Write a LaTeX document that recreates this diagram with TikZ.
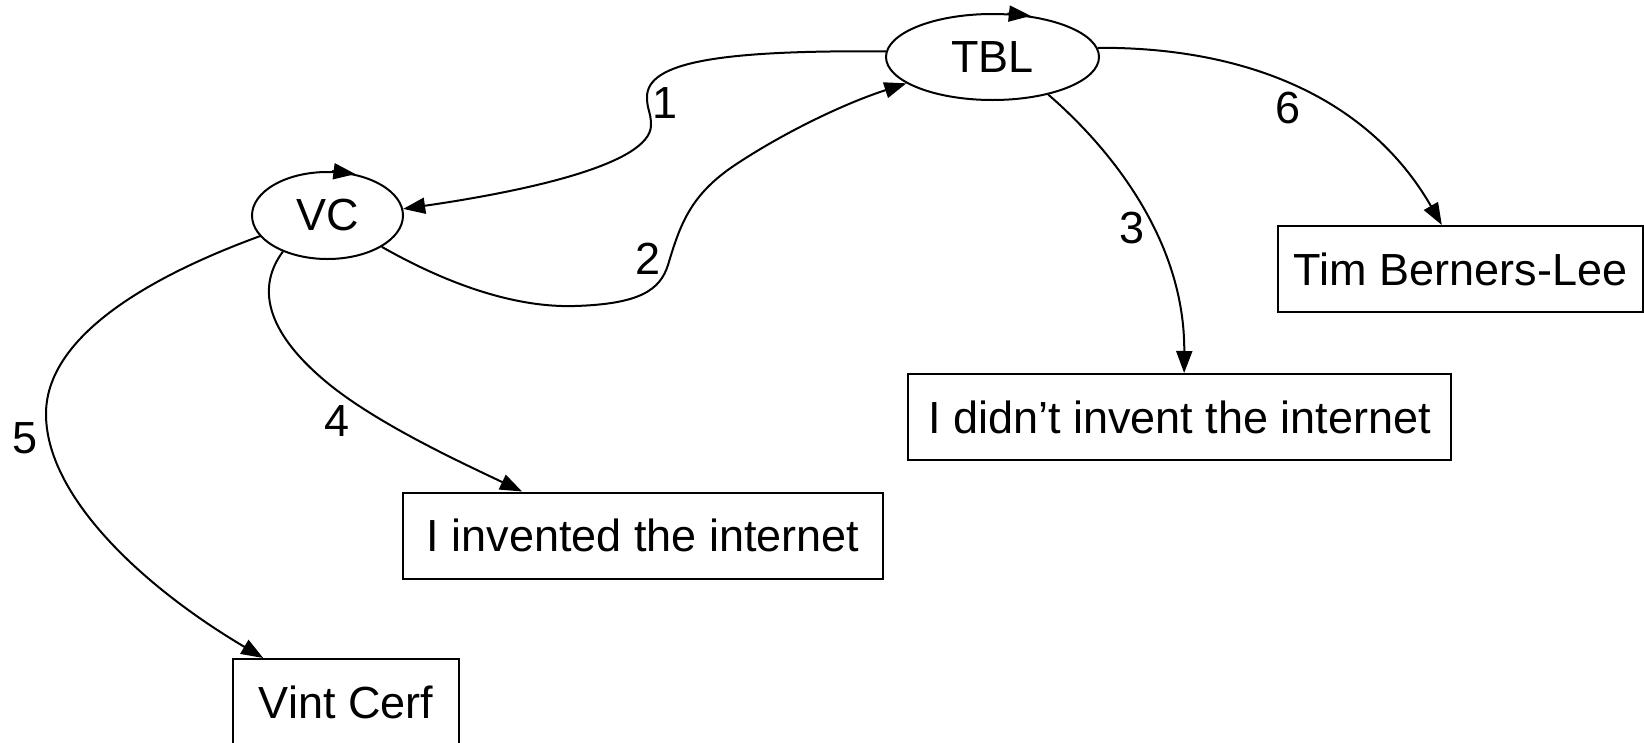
\documentclass[tikz,border=0pt]{standalone}
\usepackage{fontspec}
\setmainfont{Liberation Sans}
\usetikzlibrary{arrows.meta,shapes.geometric}
\begin{document}
\begin{tikzpicture}[x=1pt,y=-1pt,
  every node/.style={font=\fontsize{45}{54}\selectfont},
  ell/.style={draw, ellipse, line width=2pt, inner sep=0pt},
  box/.style={draw, rectangle, line width=2pt, inner sep=0pt, minimum height=86pt},
  edge/.style={line width=2pt, -{Triangle[length=22pt,width=16pt]}},
  lbl/.style={inner sep=0pt}]
\useasboundingbox (0,0) rectangle (1644,742);

% people
\node[ell, minimum width=213pt, minimum height=86pt] (TBL) at (992.5,57) {TBL};
\node[ell, minimum width=151pt, minimum height=87pt] (VC) at (327.5,215.5) {VC};

% statements and names
\node[box, minimum width=480pt] (invented) at (643,535.5) {I invented the internet};
\node[box, minimum width=543pt] (didnt) at (1179.5,417) {I didn’t invent the internet};
\node[box, minimum width=365pt] (tim) at (1460.5,269) {Tim Berners-Lee};
\node[box, minimum width=226pt] (vint) at (346,702) {Vint Cerf};

% small heads sitting on the ellipses
\draw[edge] (TBL.71) -- (TBL.47);
\draw[edge] (VC.84) -- (VC.56);

% 1: TBL -> VC
\draw[edge] (TBL.177) .. controls (720,50) and (647,62) .. (647,97)
  .. controls (647,110) and (651,112) .. (651,125)
  .. controls (651,165) and (520,192) .. (VC.5);
% 2: VC -> TBL
\draw[edge] (VC.-30) .. controls (440,280) and (510,308) .. (575,306)
  .. controls (640,304) and (660,290) .. (668,265)
  .. controls (680,225) and (690,195) .. (735,165)
  .. controls (780,135) and (840,105) .. (TBL.197);
% 3: TBL -> didn't
\draw[edge] (TBL.-34) .. controls (1110,148) and (1185,240) .. (didnt.84);
% 4: VC -> invented
\draw[edge] (VC.219) .. controls (258,285) and (262,330) .. (330,385)
  .. controls (380,425) and (460,462) .. (invented.160);
% 5: VC -> Vint Cerf
\draw[edge] (VC.197) .. controls (140,280) and (46,340) .. (46,414)
  .. controls (46,495) and (140,585) .. (vint.152);
% 6: TBL -> Tim Berners-Lee
\draw[edge] (TBL.5) .. controls (1250,47) and (1370,100) .. (tim.113);

% edge numbers
\node[lbl] (n1) at (665,103) {1};
\node[lbl] (n2) at (648,259) {2};
\node[lbl] (n3) at (1132,228) {3};
\node[lbl] (n4) at (337.5,421) {4};
\node[lbl] (n5) at (25,438.5) {5};
\node[lbl] (n6) at (1288,108) {6};
\end{tikzpicture}
\end{document}
